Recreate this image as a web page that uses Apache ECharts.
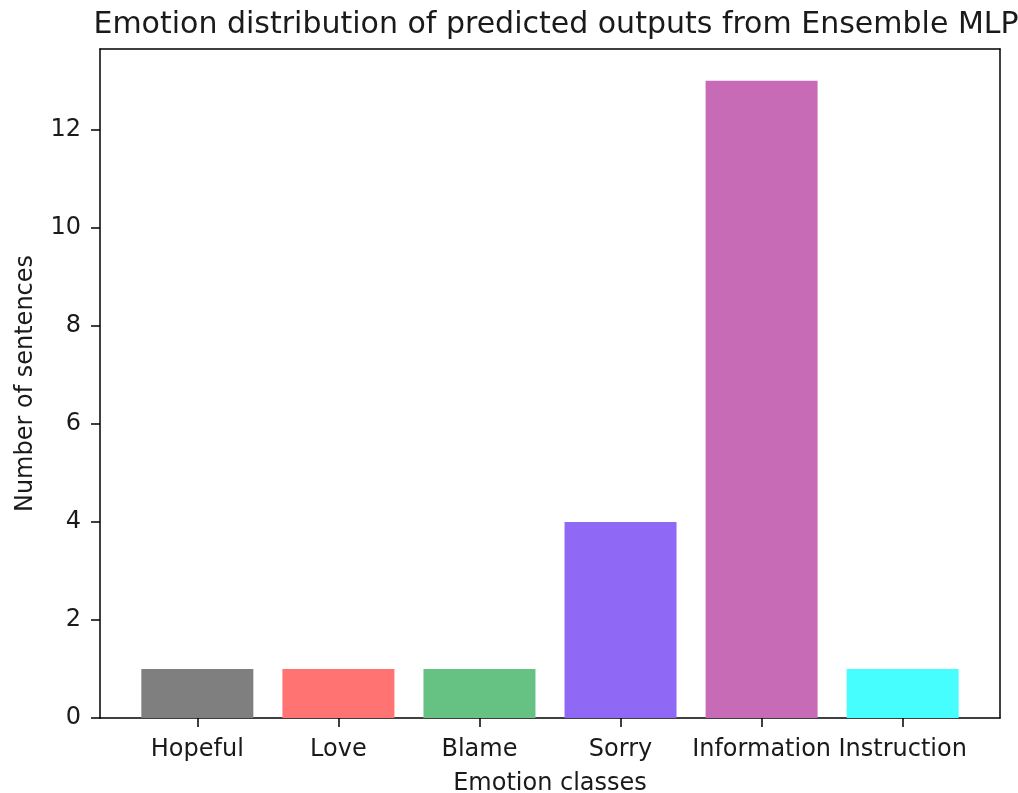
<!DOCTYPE html>
<html>
<head>
<meta charset="utf-8">
<script src="https://cdn.jsdelivr.net/npm/echarts@6/dist/echarts.min.js"></script>
<style>
  html, body { margin: 0; padding: 0; background: #fff; }
  #chart { width: 1018px; height: 793px; }
</style>
</head>
<body>
<div id="chart"></div>
<script>
// ---- data ----
const categories = ['Hopeful', 'Love', 'Blame', 'Sorry', 'Information', 'Instruction'];
const counts = [1, 1, 1, 4, 13, 1];
const yTicks = [0, 2, 4, 6, 8, 10, 12];
const barColors = ['#7f7f7f', '#ff7373', '#66c283', '#8f68f6', '#c76bb6', '#46fefe'];
const titleText = 'Emotion distribution of predicted outputs from Ensemble MLP';
const xName = 'Emotion classes';
const yName = 'Number of sentences';

const xPositions = categories.map((c, i) => i);
const yMax = Math.max(...counts) * 1.05;
const xMin = -0.4 - 0.29, xMax = (categories.length - 1) + 0.4 + 0.29;

const FONT = 'DejaVu Sans';
const TXT = '#1a1a1a';
const lineStyle = { color: '#000', width: 1.5 };

const chart = echarts.init(document.getElementById('chart'), null, { renderer: 'canvas' });
chart.setOption({
  animation: false,
  backgroundColor: '#fff',
  title: {
    text: titleText,
    left: 551,
    textAlign: 'center',
    top: 5,
    textStyle: { fontFamily: FONT, fontSize: 30, fontWeight: 'normal', color: TXT }
  },
  grid: { left: 100, right: 18, top: 49, bottom: 75, containLabel: false, outerBoundsMode: 'none' },
  xAxis: [
    {
      type: 'value', position: 'bottom', min: xMin, max: xMax,
      name: xName, nameLocation: 'middle', nameGap: 54,
      nameTextStyle: { fontFamily: FONT, fontSize: 24, color: TXT },
      axisLine: { show: true, onZero: false, lineStyle },
      axisTick: { show: true, length: 9, lineStyle: { color: '#000', width: 1.5 }, customValues: xPositions },
      axisLabel: {
        show: true, margin: 20, fontFamily: FONT, fontSize: 24, color: TXT,
        customValues: xPositions,
        formatter: v => categories[Math.round(v)] ?? ''
      },
      splitLine: { show: false }
    },
    {
      type: 'value', position: 'top', min: xMin, max: xMax,
      axisLine: { show: true, onZero: false, lineStyle },
      axisTick: { show: false }, axisLabel: { show: false }, splitLine: { show: false }
    }
  ],
  yAxis: [
    {
      type: 'value', position: 'left', min: 0, max: yMax, interval: 2,
      name: yName, nameLocation: 'middle', nameGap: 62,
      nameTextStyle: { fontFamily: FONT, fontSize: 24, color: TXT },
      axisLine: { show: true, onZero: false, lineStyle },
      axisTick: { show: true, length: 9, lineStyle: { color: '#000', width: 1.5 }, customValues: yTicks },
      axisLabel: { show: true, margin: 19, fontFamily: FONT, fontSize: 24, color: TXT, customValues: yTicks },
      splitLine: { show: false }
    },
    {
      type: 'value', position: 'right', min: 0, max: yMax,
      axisLine: { show: true, onZero: false, lineStyle },
      axisTick: { show: false }, axisLabel: { show: false }, splitLine: { show: false }
    }
  ],
  series: [{
    type: 'bar',
    xAxisIndex: 0, yAxisIndex: 0,
    barWidth: 112,
    data: counts.map((v, i) => ({ value: [xPositions[i], v], itemStyle: { color: barColors[i] } }))
  }]
});
</script>
</body>
</html>
